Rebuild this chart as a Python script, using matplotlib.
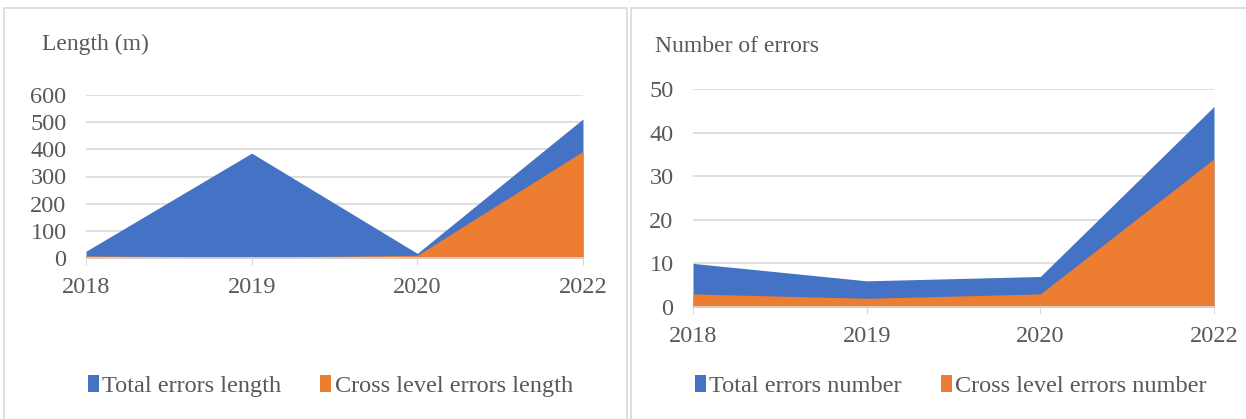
import matplotlib.pyplot as plt
from matplotlib.patches import Rectangle

plt.rcParams['font.family'] = ['Liberation Serif', 'DejaVu Serif']

years = ['2018', '2019', '2020', '2022']
total_length = [25, 386, 17, 512]
cross_length = [8, 3, 10, 393]
total_number = [10, 6, 7, 46]
cross_number = [3, 2, 3, 34]

blue = '#4472C4'
orange = '#ED7D31'
grid = '#D9D9D9'
txt = '#595959'

W, H = 1246, 419
fig = plt.figure(figsize=(W / 100, H / 100), dpi=100)

# panel frames
for x0, x1 in [(4, 627), (631, 1250)]:
    fig.add_artist(Rectangle((x0 / W, -0.05), (x1 - x0) / W, (H + 21 - 8) / H,
                             transform=fig.transFigure, fill=False,
                             edgecolor=grid, lw=1.2))


def area_panel(rect, total, cross, ymax, step, title, title_xy, labels, leg_x):
    ax = fig.add_axes(rect)
    x = list(range(len(years)))
    ax.fill_between(x, 0, total, color=blue, lw=0, label=labels[0])
    ax.fill_between(x, 0, cross, color=orange, lw=0, label=labels[1])
    ax.set_xlim(0, len(years) - 1)
    ax.set_ylim(0, ymax)
    ax.set_yticks(range(0, ymax + 1, step))
    ax.set_xticks(x)
    ax.set_xticklabels(years)
    ax.grid(axis='y', color=grid, lw=1.2)
    ax.set_axisbelow(True)
    for s in ['top', 'right', 'left']:
        ax.spines[s].set_visible(False)
    ax.spines['bottom'].set_color(grid)
    ax.spines['bottom'].set_linewidth(1.2)
    ax.tick_params(axis='y', length=0, labelsize=17.5, labelcolor=txt, pad=14)
    ax.tick_params(axis='x', length=5, color=grid, labelsize=17.5, labelcolor=txt, pad=9)
    fig.text(title_xy[0] / W, 1 - title_xy[1] / H, title, fontsize=17,
             color=txt, va='center', ha='left')
    fig.legend(*ax.get_legend_handles_labels(), loc='center left',
               bbox_to_anchor=(leg_x / W, 1 - 386 / H), ncol=2, frameon=False,
               fontsize=17.5, labelcolor=txt, handlelength=0.45, handleheight=0.7,
               handletextpad=0.15, columnspacing=1.6, borderaxespad=0)
    return ax


area_panel([86 / W, 1 - 258 / H, (583 - 86) / W, (258 - 95) / H],
           total_length, cross_length, 600, 100, 'Length (m)', (42, 44),
           ['Total errors length', 'Cross level errors length'], 78)
area_panel([693 / W, 1 - 307 / H, (1214 - 693) / W, (307 - 89) / H],
           total_number, cross_number, 50, 10, 'Number of errors', (655, 47),
           ['Total errors number', 'Cross level errors number'], 685)

fig.savefig('out.png', dpi=100)
